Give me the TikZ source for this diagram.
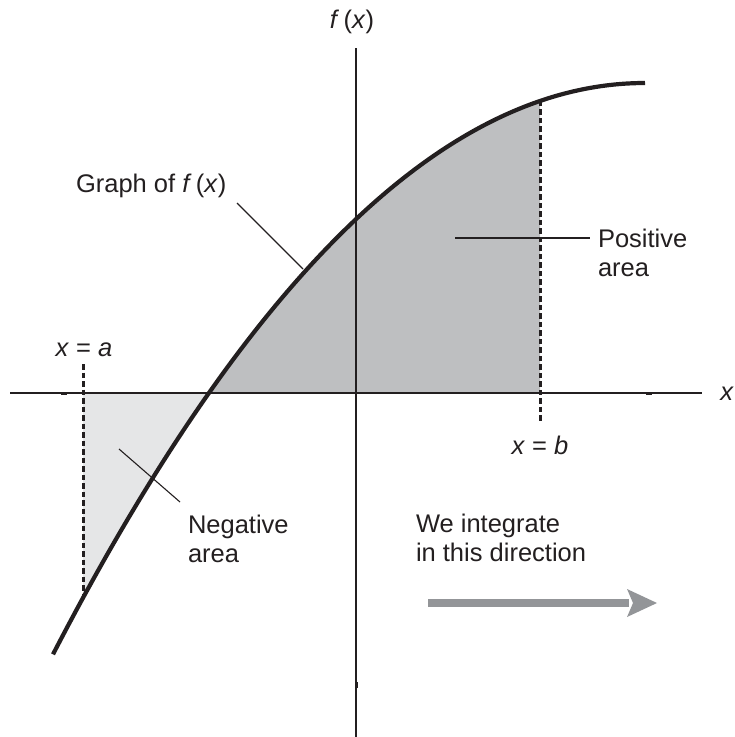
\documentclass[tikz,border=0pt]{standalone}
\usepackage{fontspec}
\setmainfont{Liberation Sans}
\usetikzlibrary{arrows.meta}
\definecolor{ink}{RGB}{35,31,32}
\definecolor{posgray}{RGB}{190,191,193}
\definecolor{neggray}{RGB}{229,230,231}
\definecolor{arrowgray}{RGB}{147,149,152}
\begin{document}
\begin{tikzpicture}[x=1pt,y=-1pt,
  declare function={fc(\t)=83+(0.04037*(\t-645))^2;},
  every node/.style={inner sep=0pt,outer sep=0pt,text=ink},
  lbl/.style={font=\fontsize{25.5}{29}\selectfont},
  axisline/.style={draw=ink,line width=1.6pt},
  dashline/.style={draw=ink,line width=3pt,dash pattern=on 5.5pt off 3pt},
  curveline/.style={draw=ink,line width=4.2pt},
  leader/.style={draw=ink,line width=1.1pt},
  tickmark/.style={fill=ink}]
\useasboundingbox (0,0) rectangle (735,737);
% shaded areas
\fill[neggray] (83,393) -- plot[domain=209:83,samples=40] (\x,{fc(\x)}) -- cycle;
\fill[posgray] (209,393) -- plot[domain=209:540,samples=60] (\x,{fc(\x)}) -- (540,393) -- cycle;
% axes
\coordinate (xl) at (10,393);
\coordinate (xr) at (702,393);
\coordinate (yt) at (356,48);
\coordinate (yb) at (356,737);
\draw[axisline] (xl) -- (xr);
\draw[axisline] (yt) -- (yb);
\fill[tickmark] (61,391.5) rectangle (67,394.5);
\fill[tickmark] (646,391.5) rectangle (652,394.5);
\fill[tickmark] (354.5,682) rectangle (357.5,688);
% dashed limits
\coordinate (atop) at (83,364);
\coordinate (abot) at (83,{fc(83)});
\coordinate (btop) at (540,{fc(540)});
\coordinate (bbot) at (540,422);
\draw[dashline] (atop) -- (abot);
\draw[dashline] (btop) -- (bbot);
% curve
\draw[curveline] plot[domain=53:645,samples=150] (\x,{fc(\x)});
% labels
\node[lbl,anchor=base] (fx) at (352,28) {\textit{f}\,(\textit{x})};
\node[lbl,anchor=base west] (graph) at (76,192) {Graph of \textit{f}\,(\textit{x})};
\node[lbl,anchor=base] (xa) at (84,356) {\textit{x} = \textit{a}};
\node[lbl,anchor=base] (xb) at (540,454) {\textit{x} = \textit{b}};
\node[lbl,anchor=base] (xlab) at (727,400) {\textit{x}};
\node[lbl,anchor=base west,align=left] (pos) at (598,276) {Positive\\area};
\node[lbl,anchor=base west,align=left] (neg) at (188,562) {Negative\\area};
\node[lbl,anchor=base west,align=left] (dir) at (416,561) {We integrate\\in this direction};
% leaders
\coordinate (g1) at (237,203);
\coordinate (g2) at (303,269);
\draw[leader] (g1) -- (g2);
\coordinate (p1) at (455,238);
\coordinate (p2) at (590,238);
\draw[leader] (p1) -- (p2);
\coordinate (n1) at (119,449);
\coordinate (n2) at (180,502);
\draw[leader] (n1) -- (n2);
% direction arrow
\coordinate (ar1) at (428,603);
\coordinate (ar2) at (629,603);
\coordinate (ar3) at (657,603);
\draw[arrowgray,line width=8pt] (ar1) -- (ar2);
\fill[arrowgray] (627,589) -- (ar3) -- (627,617) -- (633,603) -- cycle;
\end{tikzpicture}
\end{document}
